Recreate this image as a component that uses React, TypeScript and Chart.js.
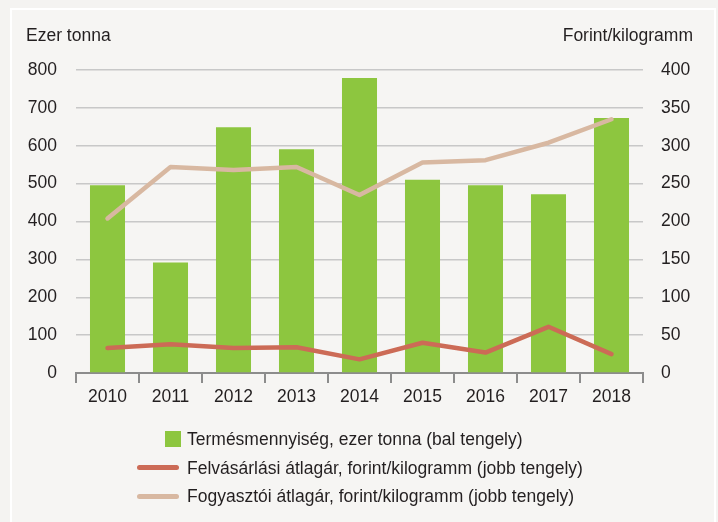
import React, { useEffect, useRef } from "react";
import { Chart, registerables } from "chart.js";

Chart.register(...registerables);

const years = ["2010", "2011", "2012", "2013", "2014", "2015", "2016", "2017", "2018"];
const harvest = [496, 292, 649, 591, 779, 510, 496, 472, 673];
const purchasePrice = [33, 38, 33, 34, 18, 40, 27, 61, 25];
const consumerPrice = [204, 272, 268, 272, 235, 278, 281, 304, 335];

const leftTitle = "Ezer tonna";
const rightTitle = "Forint/kilogramm";
const legendLabels = [
  "Termésmennyiség, ezer tonna (bal tengely)",
  "Felvásárlási átlagár, forint/kilogramm (jobb tengely)",
  "Fogyasztói átlagár, forint/kilogramm (jobb tengely)",
];

const GREEN = "#8dc63f";
const RED = "#cc6b56";
const TAN = "#d8b8a1";
const TEXT = "#231f20";
const FONT = "'Liberation Sans', Arial, sans-serif";
const FS = 17.5;

export default function App() {
  const ref = useRef<HTMLCanvasElement | null>(null);

  useEffect(() => {
    if (!ref.current) return;
    const font = { family: FONT, size: FS };
    const chart = new Chart(ref.current, {
      type: "bar",
      data: {
        labels: years,
        datasets: [
          {
            type: "line",
            label: legendLabels[1],
            data: purchasePrice,
            yAxisID: "y1",
            borderColor: RED,
            backgroundColor: RED,
            borderWidth: 4.5,
            pointRadius: 0,
            tension: 0,
            borderCapStyle: "round",
            borderJoinStyle: "round",
            order: 1,
          },
          {
            type: "line",
            label: legendLabels[2],
            data: consumerPrice,
            yAxisID: "y1",
            borderColor: TAN,
            backgroundColor: TAN,
            borderWidth: 4.5,
            pointRadius: 0,
            tension: 0,
            borderCapStyle: "round",
            borderJoinStyle: "round",
            order: 2,
          },
          {
            type: "bar",
            label: legendLabels[0],
            data: harvest,
            yAxisID: "y",
            backgroundColor: GREEN,
            borderWidth: 0,
            categoryPercentage: 1,
            barPercentage: 0.556,
            order: 10,
          },
        ],
      } as any,
      options: {
        animation: false,
        responsive: false,
        maintainAspectRatio: false,
        layout: { padding: { top: 70, bottom: 109, left: 0, right: 0 } },
        plugins: {
          legend: { display: false },
          tooltip: { enabled: false },
          title: { display: false },
        },
        scales: {
          x: {
            grid: {
              display: true,
              drawOnChartArea: false,
              drawTicks: true,
              tickLength: 10,
              color: "#8c8c8c",
              lineWidth: 2,
              offset: true,
            },
            border: { display: true, color: "#8c8c8c", width: 2 },
            ticks: { font, color: TEXT, padding: 4, maxRotation: 0 },
            afterFit: (s: any) => {
              s.height = 40;
            },
          },
          y: {
            position: "left",
            min: 0,
            max: 800,
            ticks: { stepSize: 100, padding: 19, font, color: TEXT },
            grid: { color: "#c8c8c8", lineWidth: 1.5, drawTicks: false },
            border: { display: false },
            afterFit: (s: any) => {
              s.width = 76;
            },
          },
          y1: {
            position: "right",
            min: 0,
            max: 400,
            ticks: { stepSize: 50, padding: 18, font, color: TEXT },
            grid: { display: false, drawTicks: false },
            border: { display: false },
            afterFit: (s: any) => {
              s.width = 75;
            },
          },
        },
      } as any,
    });
    return () => chart.destroy();
  }, []);

  const textStyle: React.CSSProperties = {
    position: "absolute",
    fontFamily: FONT,
    fontSize: FS,
    color: TEXT,
    lineHeight: "20px",
    whiteSpace: "nowrap",
  };

  return (
    <div
      style={{
        position: "fixed",
        left: 0,
        top: 0,
        width: 718,
        height: 522,
        overflow: "hidden",
        background: "#f4f3f1",
      }}
    >
      <div
        style={{
          position: "absolute",
          left: 10,
          top: 8,
          width: 702,
          height: 540,
          border: "2px solid #ffffff",
          background: "#f6f5f3",
        }}
      />
      <canvas
        ref={ref}
        width={718}
        height={522}
        style={{ position: "absolute", left: 0, top: 0, width: 718, height: 522 }}
      />
      <div style={{ ...textStyle, left: 26, top: 25 }}>{leftTitle}</div>
      <div style={{ ...textStyle, right: 718 - 693, top: 25 }}>{rightTitle}</div>

      <div style={{ position: "absolute", left: 165, top: 431, width: 16, height: 16, background: GREEN }} />
      <div style={{ ...textStyle, left: 187, top: 429 }}>{legendLabels[0]}</div>

      <div style={{ position: "absolute", left: 137, top: 465, width: 42, height: 5, borderRadius: 3, background: RED }} />
      <div style={{ ...textStyle, left: 187, top: 458 }}>{legendLabels[1]}</div>

      <div style={{ position: "absolute", left: 137, top: 494, width: 42, height: 5, borderRadius: 3, background: TAN }} />
      <div style={{ ...textStyle, left: 187, top: 486 }}>{legendLabels[2]}</div>
    </div>
  );
}
